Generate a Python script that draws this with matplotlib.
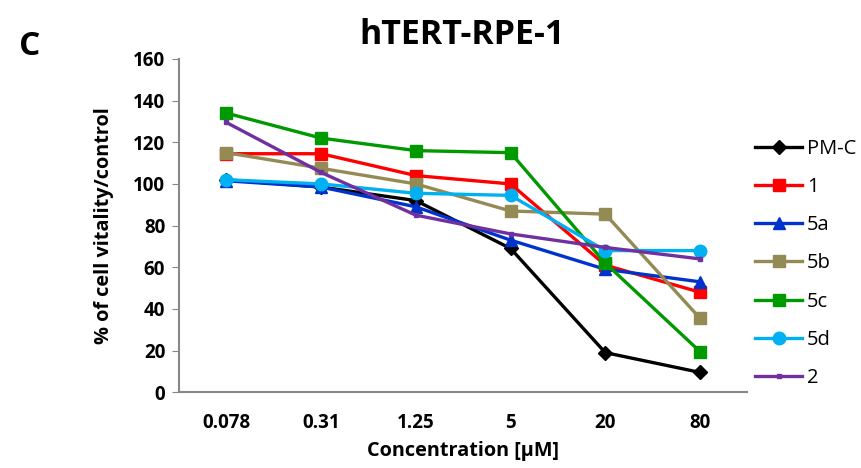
import numpy as np
import matplotlib.pyplot as plt

plt.rcParams['font.family'] = ['Open Sans', 'DejaVu Sans']

# Data
conc = ['0.078', '0.31', '1.25', '5', '20', '80']
pm_c = [102, 98.5, 92, 69, 19, 9.5]
c1 = [114.5, 114.5, 104, 100, 61, 48]
c5a = [101.5, 98.5, 89, 73, 59, 53]
c5b = [115, 107.5, 100, 87, 85.5, 35.5]
c5c = [134, 122, 116, 115, 62, 19.5]
c5d = [102, 100, 95.5, 94.5, 68, 68]
c2 = [129.5, 105.5, 85, 76, 69.5, 64]

series = [
    ('PM-C', pm_c, '#000000', 'D', 7),
    ('1', c1, '#ff0000', 's', 8),
    ('5a', c5a, '#0033cc', '^', 8),
    ('5b', c5b, '#948a54', 's', 8),
    ('5c', c5c, '#009900', 's', 8),
    ('5d', c5d, '#00b0f0', 'o', 9),
    ('2', c2, '#7030a0', 's', 2.5),
]

fig = plt.figure(figsize=(8.61, 4.68), dpi=100)
ax = fig.add_axes([0.208, 0.162, 0.66, 0.712])

x = np.arange(len(conc))
for name, vals, col, mk, ms in series:
    ax.plot(x, vals, color=col, marker=mk, markersize=ms, linewidth=2.4, label=name)

ax.set_xlim(-0.5, len(conc) - 0.5)
ax.set_ylim(0, 160)
ax.set_yticks(np.arange(0, 161, 20))
ax.set_xticks(x)
ax.set_xticklabels(conc)
for lab in ax.get_xticklabels() + ax.get_yticklabels():
    lab.set_fontweight('bold')
    lab.set_fontsize(13.5)
ax.tick_params(axis='x', length=0, pad=15)
ax.tick_params(axis='y', length=5, color='#888888', direction='out', pad=5)
for s in ['top', 'right']:
    ax.spines[s].set_visible(False)
for s in ['left', 'bottom']:
    ax.spines[s].set_color('#888888')
    ax.spines[s].set_linewidth(1.5)

ax.set_xlabel('Concentration [µM]', fontsize=14.3, fontweight='bold', labelpad=6)
ax.set_ylabel('% of cell vitality/control', fontsize=14.3, fontweight='bold', labelpad=14)
fig.text(0.537, 0.925, 'hTERT-RPE-1', fontsize=24.5, fontweight='bold', ha='center', va='center')
fig.text(0.035, 0.9, 'C', fontsize=24, fontweight='bold', ha='center', va='center')

fig.legend(loc='upper left', bbox_to_anchor=(0.868, 0.72), frameon=False,
           fontsize=14.5, handlelength=2.3, handletextpad=0.25, labelspacing=0.9,
           borderaxespad=0)

fig.savefig('out.png', dpi=100)
